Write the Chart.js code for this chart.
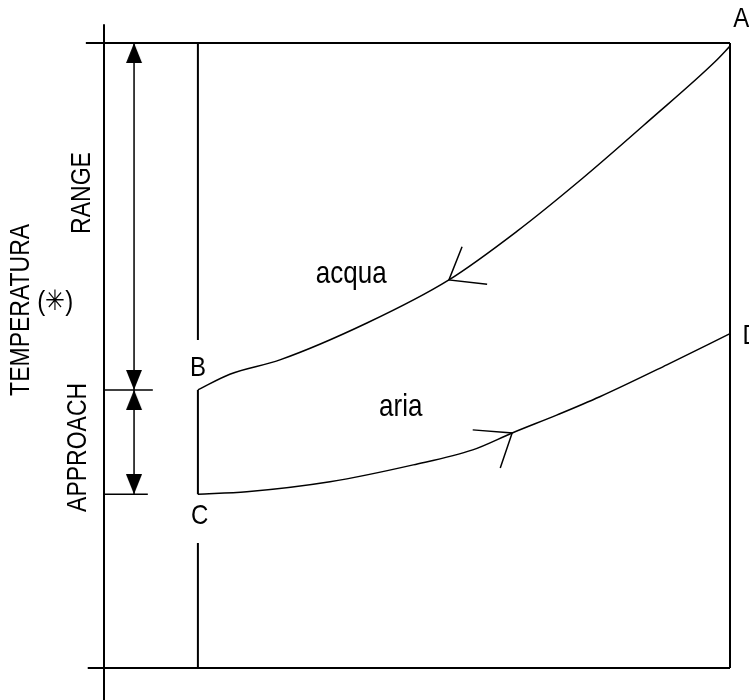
<!DOCTYPE html>
<html>
<head>
<meta charset="utf-8">
<script src="https://cdn.jsdelivr.net/npm/chart.js@4"></script>
<style>
  body { margin: 0; background: #fff; }
  #wrap { width: 749px; height: 700px; }
</style>
</head>
<body>
<div id="wrap"><canvas id="towerChart"></canvas></div>
<script>
// temperature levels (arbitrary units, 0-100)
const tA = 99.5;   // hot water in
const tB = 44.5;   // cold water out
const tC = 27.8;   // air in (wet bulb)
const tD = 53.5;   // air out
const xBC = 15;    // position of the B-C line

// water line A -> B
const acquaX = [15, 20.1, 28.1, 42.0, 55.1, 66.0, 76.5, 87.2, 97.6, 100];
const acquaY = [tB, 47.0, 49.3, 55.2, 62.1, 69.9, 78.4, 87.7, 97.0, tA];

// air line C -> D
const ariaX = [15, 22.8, 36.1, 49.4, 58.9, 65.2, 72.4, 79.2, 89.9, 100];
const ariaY = [tC, 28.2, 29.8, 32.5, 34.9, 37.6, 40.5, 43.4, 48.5, tD];

// open arrows on the two lines
const acquaArrowX = [57.2, 55.1, 61.2];
const acquaArrowY = [67.4, 62.1, 61.4];
const ariaArrowX = [58.9, 65.2, 63.3];
const ariaArrowY = [38.1, 37.6, 32.0];

// frame
const axisX = [0, 0], axisY = [-5.1, 103];
const topX = [-2.9, 100], topY = [100, 100];
const bottomX = [-2.6, 100], bottomY = [0, 0];
const rightX = [100, 100], rightY = [0, 100];
const vUpperY = [100, 52.5];
const vBCY = [tB, tC];
const vLowerY = [20, 0];

// range / approach dimension
const dimX = 4.8;
const rangeY = [100, tB];
const approachY = [tB, tC];
const tickBX = [0, 7.8];
const tickCX = [0, 7.0];

const pts = (xs, ys) => xs.map((x, i) => ({ x: x, y: ys[i] }));

function line(data, width, smooth) {
    return {
        data: data,
        showLine: true,
        borderColor: "#000",
        borderWidth: width,
        pointRadius: 0,
        cubicInterpolationMode: smooth ? "monotone" : "default",
        tension: 0,
        clip: false
    };
}

// filled arrowhead, tip at the centre of the image
const head = document.createElement("canvas");
head.width = 20;
head.height = 40;
const hc = head.getContext("2d");
hc.fillStyle = "#000";
hc.beginPath();
hc.moveTo(10, 20);
hc.lineTo(18, 40);
hc.lineTo(2, 40);
hc.closePath();
hc.fill();

const labels = [
    { text: "A", x: 101.8, y: 103.8, size: 24 },
    { text: "D", x: 103.4, y: 53.1, size: 24 },
    { text: "B", x: 15.0, y: 48.0, size: 24 },
    { text: "C", x: 15.3, y: 24.3, size: 24 },
    { text: "acqua", x: 39.5, y: 63.0, size: 26 },
    { text: "aria", x: 47.4, y: 41.6, size: 26 },
    { text: "RANGE", x: -3.5, y: 76.0, size: 23, rot: -Math.PI / 2 },
    { text: "APPROACH", x: -4.0, y: 35.3, size: 23, rot: -Math.PI / 2 },
    { text: "TEMPERATURA", x: -13.1, y: 57.3, size: 23, rot: -Math.PI / 2 },
    { text: "(\u2733)", x: -7.8, y: 58.6, size: 24 }
];

const labelPlugin = {
    id: "labels",
    afterDatasetsDraw(chart) {
        const ctx = chart.ctx;
        const sx = chart.scales.x, sy = chart.scales.y;
        labels.forEach(l => {
            ctx.save();
            ctx.translate(sx.getPixelForValue(l.x), sy.getPixelForValue(l.y));
            ctx.rotate(l.rot || 0);
            ctx.scale(1, 1.18);
            ctx.font = l.size + "px 'Liberation Sans', Arial, sans-serif";
            ctx.fillStyle = "#000";
            ctx.textAlign = "center";
            ctx.textBaseline = "middle";
            ctx.fillText(l.text, 0, 0);
            ctx.restore();
        });
    }
};

new Chart(document.getElementById("towerChart"), {
    type: "scatter",
    data: {
        datasets: [
            line(pts(axisX, axisY), 2),
            line(pts(topX, topY), 2),
            line(pts(bottomX, bottomY), 2),
            line(pts(rightX, rightY), 2),
            line(pts([xBC, xBC], vUpperY), 2),
            line(pts([xBC, xBC], vBCY), 2),
            line(pts([xBC, xBC], vLowerY), 2),
            line(pts(acquaX, acquaY), 1.5, true),
            line(pts(ariaX, ariaY), 1.5, true),
            line(pts(acquaArrowX, acquaArrowY), 1.5),
            line(pts(ariaArrowX, ariaArrowY), 1.5),
            line(pts([dimX, dimX], rangeY), 1.5),
            line(pts([dimX, dimX], approachY), 1.5),
            line(pts(tickBX, [tB, tB]), 1.5),
            line(pts(tickCX, [tC, tC]), 1.5),
            {
                data: pts([dimX, dimX, dimX, dimX], [rangeY[0], rangeY[1], approachY[0], approachY[1]]),
                pointStyle: head,
                rotation: [0, 180, 0, 180],
                pointRadius: 10,
                clip: false
            }
        ]
    },
    options: {
        responsive: true,
        maintainAspectRatio: false,
        animation: false,
        layout: {
            padding: { left: 104, right: 19, top: 43, bottom: 32 }
        },
        scales: {
            x: { type: "linear", min: 0, max: 100, display: false },
            y: { type: "linear", min: 0, max: 100, display: false }
        },
        plugins: {
            legend: { display: false },
            tooltip: { enabled: false }
        }
    },
    plugins: [labelPlugin]
});
</script>
</body>
</html>
